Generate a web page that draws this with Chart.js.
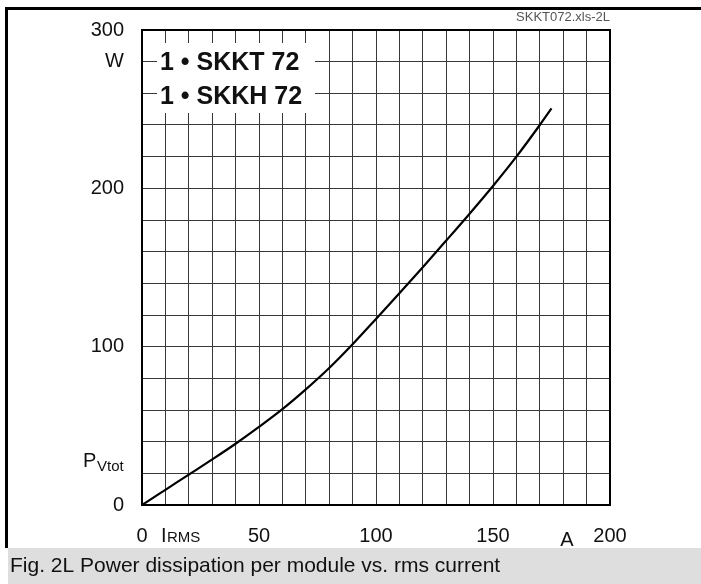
<!DOCTYPE html>
<html>
<head>
<meta charset="utf-8">
<script src="https://cdn.jsdelivr.net/npm/chart.js@4/dist/chart.umd.min.js"></script>
<style>
  html, body { margin: 0; padding: 0; background: #ffffff; }
  #wrap { width: 701px; height: 584px; position: relative; }
  canvas { display: block; }
</style>
</head>
<body>
<div id="wrap"><canvas id="c" width="701" height="584"></canvas></div>
<script>
// ---- data ----
const currentA = [0, 10, 20, 30, 40, 50, 60, 70, 80, 90, 100, 110, 120, 130, 140, 150, 160, 170, 175];
const powerW   = [0, 9.6, 19.2, 28.8, 38.7, 49.3, 60.5, 73, 86.5, 101.5, 117.5, 133.7, 150.2, 167, 184, 201.5, 220, 240, 250.5];
const xTickLabels = [0, 50, 100, 150, 200];
const yTickLabels = [0, 100, 200, 300];
const yUnitAt = 280;
const legendLines = ['1 \u2022 SKKT 72', '1 \u2022 SKKH 72'];
const fileTag = 'SKKT072.xls-2L';
const caption = 'Fig. 2L Power dissipation per module vs. rms current';

const FONT = '"Liberation Sans", Arial, Helvetica, sans-serif';

const decorPlugin = {
  id: 'decor',
  beforeDraw(chart) {
    const ctx = chart.ctx;
    ctx.save();
    ctx.fillStyle = '#ffffff';
    ctx.fillRect(0, 0, chart.width, chart.height);
    // outer frame (top and left)
    ctx.fillStyle = '#000000';
    ctx.fillRect(5, 7, 701 - 5, 3);
    ctx.fillRect(5, 7, 3, 548 - 7);
    // caption band
    ctx.fillStyle = '#dedede';
    ctx.fillRect(8, 548, 701 - 8, 584 - 548);
    ctx.fillStyle = '#111111';
    ctx.font = '21px ' + FONT;
    ctx.textBaseline = 'middle';
    ctx.textAlign = 'left';
    ctx.fillText(caption, 10, 566);
    // file tag
    ctx.fillStyle = '#555555';
    ctx.font = '13px ' + FONT;
    ctx.textAlign = 'right';
    ctx.textBaseline = 'alphabetic';
    ctx.fillText(fileTag, 610, 21);
    ctx.restore();
  },
  beforeDatasetsDraw(chart) {
    const ctx = chart.ctx;
    const a = chart.chartArea;
    ctx.save();
    // plot frame
    ctx.strokeStyle = '#000000';
    ctx.lineWidth = 2;
    ctx.strokeRect(a.left, a.top, a.right - a.left, a.bottom - a.top);
    // legend box
    ctx.fillStyle = '#ffffff';
    ctx.fillRect(157, 43, 158, 70);
    ctx.fillStyle = '#111111';
    ctx.font = 'bold 25px ' + FONT;
    ctx.textAlign = 'left';
    ctx.textBaseline = 'middle';
    ctx.fillText(legendLines[0], 160, 63);
    ctx.fillText(legendLines[1], 160, 97);
    ctx.restore();
  },
  afterDraw(chart) {
    const ctx = chart.ctx;
    ctx.save();
    ctx.fillStyle = '#111111';
    ctx.textAlign = 'left';
    ctx.textBaseline = 'alphabetic';
    // P_Vtot
    ctx.font = '20px ' + FONT;
    ctx.fillText('P', 83, 467);
    ctx.font = '15px ' + FONT;
    ctx.fillText('Vtot', 97, 471);
    // I_RMS
    ctx.font = '20px ' + FONT;
    ctx.fillText('I', 161, 542);
    ctx.font = '15px ' + FONT;
    ctx.fillText('RMS', 167, 542);
    // A
    ctx.font = '20px ' + FONT;
    ctx.textAlign = 'center';
    ctx.fillText('A', 567, 546);
    ctx.restore();
  }
};

const points = currentA.map((x, i) => ({ x: x, y: powerW[i] }));

new Chart(document.getElementById('c'), {
  type: 'line',
  data: {
    datasets: [{
      data: points,
      borderColor: '#000000',
      borderWidth: 2.2,
      pointRadius: 0,
      fill: false,
      cubicInterpolationMode: 'monotone'
    }]
  },
  options: {
    responsive: false,
    animation: false,
    devicePixelRatio: 1,
    layout: { padding: { top: 27, right: 91, left: 0, bottom: 0 } },
    plugins: { legend: { display: false }, tooltip: { enabled: false }, title: { display: false } },
    scales: {
      x: {
        type: 'linear',
        min: 0, max: 200,
        afterFit(s) { s.height = 79; },
        grid: { color: '#383838', lineWidth: 1, drawTicks: false },
        border: { display: true, color: '#000000', width: 2 },
        ticks: {
          stepSize: 10,
          autoSkip: false,
          maxRotation: 0,
          padding: 19,
          color: '#111111',
          font: { family: FONT, size: 20 },
          callback: (v) => xTickLabels.includes(v) ? String(v) : ''
        }
      },
      y: {
        type: 'linear',
        min: 0, max: 300,
        afterFit(s) { s.width = 142; },
        grid: { color: '#383838', lineWidth: 1, drawTicks: false },
        border: { display: true, color: '#000000', width: 2 },
        ticks: {
          stepSize: 20,
          autoSkip: false,
          padding: 18,
          color: '#111111',
          font: { family: FONT, size: 20 },
          callback: (v) => yTickLabels.includes(v) ? String(v) : (v === yUnitAt ? 'W' : '')
        }
      }
    }
  },
  plugins: [decorPlugin]
});
</script>
</body>
</html>
